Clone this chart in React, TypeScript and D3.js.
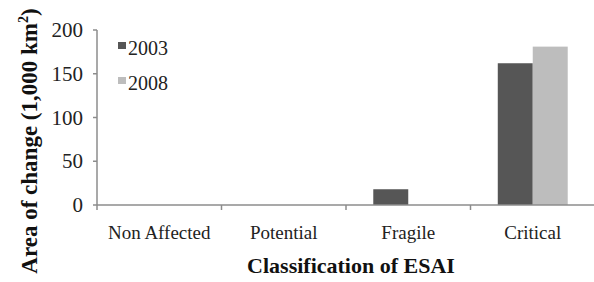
import React, { useEffect, useRef } from 'react';
import * as d3 from 'd3';

const categories = ['Non Affected', 'Potential', 'Fragile', 'Critical'];
const years = ['2003', '2008'];
const values2003 = [0, 0, 18, 162];
const values2008 = [0, 0, 0, 181];
const yTicks = [0, 50, 100, 150, 200];

const colors: Record<string, string> = { '2003': '#565656', '2008': '#bdbdbd' };

const App = () => {
  const svgRef = useRef<SVGSVGElement>(null);

  useEffect(() => {
    const svg = d3.select(svgRef.current);
    svg.selectAll('*').remove();

    const left = 97, right = 595, top = 30, bottom = 205;
    const serif = "'Times New Roman', 'Liberation Serif', 'DejaVu Serif', serif";
    const axisColor = '#8c8c8c';

    const x = d3.scaleBand().domain(categories).range([left, right]);
    const x1 = d3.scaleBand().domain(years).range([0, x.bandwidth()]).paddingOuter(0.78);
    const y = d3.scaleLinear().domain([0, 200]).range([bottom, top]);

    const rows = categories.map((c, i) => ({ cat: c, vals: [values2003[i], values2008[i]] }));

    // barres
    const g = svg.selectAll('g.grp').data(rows).enter().append('g')
      .attr('transform', d => `translate(${x(d.cat)},0)`);
    g.selectAll('rect')
      .data(d => years.map((yr, j) => ({ yr, v: d.vals[j] })).filter(e => e.v > 0))
      .enter().append('rect')
      .attr('x', d => x1(d.yr)!)
      .attr('width', x1.bandwidth())
      .attr('y', d => y(d.v))
      .attr('height', d => bottom - y(d.v))
      .attr('fill', d => colors[d.yr]);

    // axe y
    svg.append('line').attr('x1', left).attr('x2', left).attr('y1', top).attr('y2', bottom)
      .attr('stroke', axisColor).attr('stroke-width', 1.5);
    svg.selectAll('.ytick').data(yTicks).enter().append('line')
      .attr('x1', left - 4).attr('x2', left).attr('y1', d => y(d)).attr('y2', d => y(d))
      .attr('stroke', axisColor).attr('stroke-width', 1.5);
    svg.selectAll('.ylab').data(yTicks).enter().append('text')
      .attr('x', left - 14).attr('y', d => y(d) + 7)
      .attr('text-anchor', 'end').style('font-family', serif).attr('font-size', 21)
      .attr('fill', '#222').text(d => d);

    // axe x
    svg.append('line').attr('x1', left).attr('x2', right).attr('y1', bottom).attr('y2', bottom)
      .attr('stroke', axisColor).attr('stroke-width', 1.5);
    svg.selectAll('.xtick').data(categories).enter().append('line')
      .attr('x1', d => x(d)!).attr('x2', d => x(d)!).attr('y1', bottom).attr('y2', bottom + 5)
      .attr('stroke', axisColor).attr('stroke-width', 1.5);
    svg.selectAll('.xlab').data(categories).enter().append('text')
      .attr('x', d => x(d)! + x.bandwidth() / 2).attr('y', 239)
      .attr('text-anchor', 'middle').style('font-family', serif).attr('font-size', 19)
      .attr('fill', '#222').text(d => d);

    // titres
    svg.append('text').attr('x', 351).attr('y', 273).attr('text-anchor', 'middle')
      .style('font-family', serif).attr('font-size', 22).attr('font-weight', 'bold')
      .attr('fill', '#111').text('Classification of ESAI');
    const yt = svg.append('text').attr('transform', 'translate(37,141) rotate(-90)')
      .attr('text-anchor', 'middle').style('font-family', serif).attr('font-size', 23)
      .attr('font-weight', 'bold').attr('fill', '#111');
    yt.append('tspan').text('Area of change (1,000 km');
    yt.append('tspan').attr('dy', -9).attr('font-size', 14).text('2');
    yt.append('tspan').attr('dy', 9).text(')');

    // légende
    years.forEach((yr, i) => {
      const ly = 49 + i * 35;
      svg.append('rect').attr('x', 118).attr('y', ly - 7).attr('width', 8).attr('height', 7)
        .attr('fill', colors[yr]);
      svg.append('text').attr('x', 128).attr('y', ly + 6).style('font-family', serif)
        .attr('font-size', 20).attr('fill', '#222').text(yr);
    });
  }, []);

  return (
    <svg ref={svgRef} width={594} height={282}
      style={{ position: 'absolute', left: 0, top: 0, background: '#fff' }} />
  );
};

export default App;
